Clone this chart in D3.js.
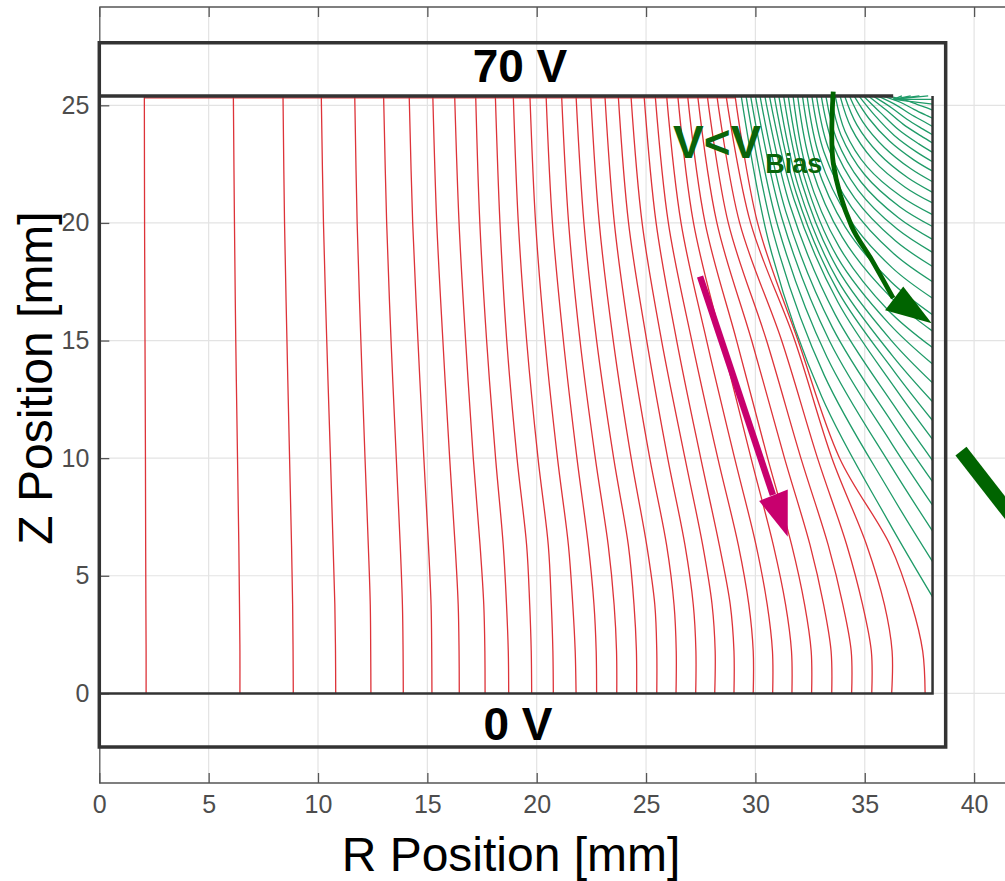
<!DOCTYPE html>
<html>
<head>
<meta charset="utf-8">
<script src="https://cdn.jsdelivr.net/npm/d3@7"></script>
<style>
  html, body { margin: 0; padding: 0; background: #fff; }
  svg { display: block; font-family: "Liberation Sans", Arial, Helvetica, sans-serif; }
</style>
</head>
<body>
<div id="chart"></div>
<script>
'use strict';

const xTicks = [0, 5, 10, 15, 20, 25, 30, 35, 40];
const yTicks = [0, 5, 10, 15, 20, 25];

// detector: radius x height in mm, plus the electrode box drawn around it
const detRadius = 38.1,
  detHeight = 25.4;
const boxR = [0, 38.7],
  boxZ = [-2.28, 27.66];

// red drift lines: radius (mm) at each of these heights
const redLevels = [25.4, 20, 15, 10, 6.3, 3.77, 1.8, 0];
const redLines = [
  [2.06, 2.07, 2.09, 2.11, 2.12, 2.13, 2.14, 2.14],
  [6.13, 6.18, 6.24, 6.32, 6.38, 6.41, 6.43, 6.43],
  [8.40, 8.47, 8.58, 8.70, 8.79, 8.84, 8.86, 8.87],
  [10.15, 10.25, 10.40, 10.57, 10.69, 10.77, 10.80, 10.81],
  [11.68, 11.79, 11.96, 12.15, 12.30, 12.39, 12.41, 12.42],
  [13.00, 13.14, 13.34, 13.58, 13.76, 13.86, 13.89, 13.90],
  [14.17, 14.33, 14.57, 14.84, 15.05, 15.17, 15.20, 15.21],
  [15.25, 15.43, 15.71, 16.02, 16.27, 16.41, 16.45, 16.46],
  [16.25, 16.45, 16.75, 17.10, 17.41, 17.58, 17.63, 17.64],
  [17.21, 17.40, 17.71, 18.12, 18.47, 18.62, 18.70, 18.72],
  [18.11, 18.32, 18.63, 19.10, 19.54, 19.68, 19.75, 19.77],
  [18.93, 19.16, 19.54, 20.06, 20.53, 20.67, 20.74, 20.76],
  [19.69, 19.95, 20.38, 20.95, 21.45, 21.65, 21.76, 21.80],
  [20.43, 20.72, 21.22, 21.84, 22.36, 22.62, 22.72, 22.74],
  [21.14, 21.46, 21.98, 22.68, 23.27, 23.54, 23.65, 23.66],
  [21.80, 22.16, 22.74, 23.52, 24.19, 24.45, 24.56, 24.57],
  [22.47, 22.86, 23.50, 24.32, 25.03, 25.40, 25.49, 25.49],
  [23.12, 23.55, 24.27, 25.17, 25.94, 26.28, 26.38, 26.37],
  [23.73, 24.20, 25.03, 25.99, 26.78, 27.16, 27.28, 27.27],
  [24.31, 24.82, 25.71, 26.78, 27.59, 28.02, 28.16, 28.14],
  [24.91, 25.46, 26.40, 27.50, 28.35, 28.85, 29.02, 29.02],
  [25.42, 26.02, 27.09, 28.28, 29.22, 29.70, 29.90, 29.90],
  [25.94, 26.60, 27.77, 29.05, 30.03, 30.54, 30.78, 30.79],
  [26.45, 27.17, 28.46, 29.80, 30.82, 31.38, 31.65, 31.67],
  [26.90, 27.70, 29.14, 30.56, 31.66, 32.25, 32.55, 32.57],
  [27.36, 28.24, 29.83, 31.33, 32.50, 33.12, 33.46, 33.49],
  [27.80, 28.76, 30.51, 32.08, 33.33, 34.00, 34.38, 34.40],
  [28.24, 29.28, 31.20, 32.84, 34.18, 34.90, 35.30, 35.32],
  [28.66, 29.78, 31.80, 33.50, 35.09, 35.90, 36.25, 36.23],
  [29.07, 30.10, 31.95, 33.85, 36.16, 37.15, 37.65, 37.76]
];

// green lines, [r, z] points from the top face down to the side face
const greenLines = [
  [[29.35, 25.4], [30.66, 19.01], [33.03, 12.62], [36.09, 7.30], [38.1, 4.1]],
  [[29.57, 25.4], [30.85, 19.46], [33.15, 13.52], [36.14, 8.57], [38.1, 5.6]],
  [[29.78, 25.4], [31.03, 19.85], [33.27, 14.30], [36.19, 9.68], [38.1, 6.9]],
  [[30.00, 25.4], [31.22, 20.18], [33.40, 14.96], [36.24, 10.61], [38.1, 8.0]],
  [[30.21, 25.4], [31.39, 20.48], [33.52, 15.56], [36.29, 11.46], [38.1, 9.0]],
  [[30.43, 25.4], [31.58, 20.75], [33.65, 16.10], [36.34, 12.23], [38.1, 9.9]],
  [[30.64, 25.4], [31.76, 21.02], [33.77, 16.64], [36.38, 12.99], [38.1, 10.8]],
  [[30.86, 25.4], [31.87, 21.26], [33.76, 17.12], [36.36, 13.67], [38.1, 11.6]],
  [[31.07, 25.4], [31.98, 21.50], [33.74, 17.60], [36.27, 14.35], [38.1, 12.4]],
  [[31.29, 25.4], [32.11, 21.74], [33.74, 18.08], [36.19, 15.03], [38.1, 13.2]],
  [[31.50, 25.4], [32.23, 21.98], [33.74, 18.56], [36.12, 15.71], [38.1, 14.0]],
  [[31.72, 25.4], [32.36, 22.19], [33.83, 18.98], [36.06, 16.30], [38.1, 14.7]],
  [[31.93, 25.4], [32.55, 22.40], [33.97, 19.40], [36.13, 16.90], [38.1, 15.4]],
  [[32.15, 25.4], [32.75, 22.61], [34.11, 19.82], [36.20, 17.50], [38.1, 16.1]],
  [[32.36, 25.4], [32.93, 22.82], [34.25, 20.24], [36.26, 18.09], [38.1, 16.8]],
  [[32.58, 25.4], [33.13, 23.03], [34.40, 20.66], [36.33, 18.69], [38.1, 17.5]],
  [[32.79, 25.4], [33.32, 23.23], [34.54, 21.05], [36.40, 19.24], [38.1, 18.15]],
  [[33.01, 25.4], [33.52, 23.41], [34.69, 21.41], [36.47, 19.75], [38.1, 18.75]],
  [[33.22, 25.4], [33.71, 23.57], [34.83, 21.74], [36.54, 20.22], [38.1, 19.3]],
  [[33.44, 25.4], [33.91, 23.74], [34.98, 22.07], [36.61, 20.68], [38.1, 19.85]],
  [[33.65, 25.4], [34.10, 23.89], [35.12, 22.37], [36.68, 21.11], [38.1, 20.35]],
  [[33.87, 25.4], [34.38, 24.04], [35.39, 22.67], [36.83, 21.53], [38.1, 20.85]],
  [[34.08, 25.4], [34.64, 24.17], [35.65, 22.94], [36.97, 21.92], [38.1, 21.3]],
  [[34.30, 25.4], [34.91, 24.30], [35.90, 23.21], [37.11, 22.30], [38.1, 21.75]],
  [[34.51, 25.4], [35.19, 24.44], [36.13, 23.48], [37.24, 22.68], [38.1, 22.2]],
  [[34.73, 25.4], [35.47, 24.56], [36.35, 23.72], [37.36, 23.02], [38.1, 22.6]],
  [[34.94, 25.4], [35.73, 24.68], [36.55, 23.96], [37.47, 23.36], [38.1, 23.0]],
  [[35.16, 25.4], [35.98, 24.80], [36.75, 24.20], [37.57, 23.70], [38.1, 23.4]],
  [[35.37, 25.4], [36.22, 24.90], [36.93, 24.41], [37.64, 24.00], [38.1, 23.75]],
  [[35.59, 25.4], [36.44, 25.01], [37.10, 24.62], [37.72, 24.30], [38.1, 24.1]],
  [[35.80, 25.4], [36.65, 25.12], [37.25, 24.83], [37.78, 24.59], [38.1, 24.45]],
  [[36.02, 25.4], [36.85, 25.22], [37.39, 25.04], [37.85, 24.89], [38.1, 24.8]]
];

// short lines fanning out of the point contact
const contact = [36.3, 25.25];
const fanEnds = [
  [38.1, 25.05], [38.1, 25.25], [37.9, 25.4], [37.5, 25.4], [37.1, 25.4], [36.7, 25.4]
];

// annotation arrows
const greenArrow = [[33.56, 25.58], [33.56, 22.54], [34.41, 19.84], [35.32, 18.43], [36.3, 16.8]];
const greenHead = [[35.93, 16.29], [36.76, 17.30], [38.06, 15.73]];
const pinkArrow = [[27.47, 17.72], [30.80, 8.43]];
const pinkHead = [[30.17, 8.18], [31.48, 8.67], [31.48, 6.66]];
const sideArrow = [[39.4, 10.3], [44.0, 4.8]];

const width = 1005,
  height = 881;

const x = d3.scaleLinear().domain([0, 42]).range([99.3, 99.3 + 42 * 21.87]);
const y = d3.scaleLinear().domain([-3.81, 29.18]).range([783, 7]);

const svg = d3.select('#chart')
  .append('svg')
  .attr('width', width)
  .attr('height', height);

// grid
const grid = svg.append('g').attr('class', 'grid');
grid.selectAll('line.gx')
  .data(xTicks.slice(1).concat([45]))
  .enter()
  .append('line')
  .attr('x1', d => x(d)).attr('x2', d => x(d))
  .attr('y1', y.range()[1]).attr('y2', y.range()[0])
  .attr('stroke', '#e3e3e3')
  .attr('stroke-width', 1.2);
grid.selectAll('line.gy')
  .data(yTicks)
  .enter()
  .append('line')
  .attr('x1', x(0)).attr('x2', width)
  .attr('y1', d => y(d)).attr('y2', d => y(d))
  .attr('stroke', '#e3e3e3')
  .attr('stroke-width', 1.2);

// axes, ticks pointing inward
const axisColor = '#555';
const xAxis = d3.axisBottom(x).tickValues(xTicks).tickSizeInner(-10).tickSizeOuter(0).tickPadding(12);
const xAxisTop = d3.axisTop(x).tickValues(xTicks).tickSizeInner(-10).tickSizeOuter(0).tickFormat('');
const yAxis = d3.axisLeft(y).tickValues(yTicks).tickSizeInner(-10).tickSizeOuter(0).tickPadding(10);

const gx = svg.append('g')
  .attr('transform', `translate(0, ${y.range()[0]})`)
  .call(xAxis);
const gxt = svg.append('g')
  .attr('transform', `translate(0, ${y.range()[1]})`)
  .call(xAxisTop);
const gy = svg.append('g')
  .attr('transform', `translate(${x(0)}, 0)`)
  .call(yAxis);

[gx, gxt, gy].forEach(g => {
  g.select('.domain').attr('stroke', axisColor).attr('stroke-width', 1.3);
  g.selectAll('.tick line').attr('stroke', axisColor).attr('stroke-width', 1.3);
  g.selectAll('.tick text')
    .attr('fill', '#4d4d4d')
    .style('font-size', '25px')
    .style('font-family', '"Liberation Sans", Arial, sans-serif');
});
gx.select('.domain').attr('d', `M${x(0)},0H${width}`);
gxt.select('.domain').attr('d', `M${x(0)},0H${width}`);

const line = d3.line()
  .x(d => x(d[0]))
  .y(d => y(d[1]))
  .curve(d3.curveCatmullRom.alpha(0.5));

// red drift lines, plus the red trace under the top face
const redColor = '#dd3339';
svg.append('g')
  .selectAll('path')
  .data(redLines)
  .enter()
  .append('path')
  .attr('d', r => line(r.map((v, i) => [v, redLevels[i]])))
  .attr('fill', 'none')
  .attr('stroke', redColor)
  .attr('stroke-width', 1.3);
svg.append('path')
  .attr('d', `M${x(redLines[0][0])},${y(detHeight) + 2}H${x(redLines[redLines.length - 1][0])}`)
  .attr('stroke', redColor).attr('stroke-width', 1.2);

// green lines
svg.append('g')
  .selectAll('path')
  .data(greenLines.concat(fanEnds.map(e => [contact, e])))
  .enter()
  .append('path')
  .attr('d', line)
  .attr('fill', 'none')
  .attr('stroke', '#1f9b68')
  .attr('stroke-width', 1.3);

// detector outline
const frame = '#333';
svg.append('path')
  .attr('d', `M${x(0)},${y(detHeight)}H${x(contact[0])}`)
  .attr('stroke', frame).attr('stroke-width', 3.5).attr('fill', 'none');
svg.append('path')
  .attr('d', `M${x(0)},${y(0)}H${x(detRadius)}V${y(detHeight)}`)
  .attr('stroke', frame).attr('stroke-width', 2.5).attr('fill', 'none');

// electrode box
svg.append('rect')
  .attr('x', x(boxR[0]))
  .attr('y', y(boxZ[1]))
  .attr('width', x(boxR[1]) - x(boxR[0]))
  .attr('height', y(boxZ[0]) - y(boxZ[1]))
  .attr('fill', 'none')
  .attr('stroke', frame)
  .attr('stroke-width', 3.5);

// arrows
svg.append('path')
  .attr('d', line(greenArrow))
  .attr('fill', 'none')
  .attr('stroke', '#006400')
  .attr('stroke-width', 4.8);
svg.append('polygon')
  .attr('points', greenHead.map(p => [x(p[0]), y(p[1])].join(',')).join(' '))
  .attr('fill', '#006400');

svg.append('path')
  .attr('d', d3.line().x(d => x(d[0])).y(d => y(d[1]))(pinkArrow))
  .attr('stroke', '#c8006e')
  .attr('stroke-width', 6.5);
svg.append('polygon')
  .attr('points', pinkHead.map(p => [x(p[0]), y(p[1])].join(',')).join(' '))
  .attr('fill', '#c8006e');

svg.append('path')
  .attr('d', d3.line().x(d => x(d[0])).y(d => y(d[1]))(sideArrow))
  .attr('stroke', '#006400')
  .attr('stroke-width', 14);

// labels
svg.append('text')
  .attr('x', 520).attr('y', 82)
  .attr('text-anchor', 'middle')
  .style('font-size', '46px').style('font-weight', 'bold')
  .text('70 V');
svg.append('text')
  .attr('x', 518).attr('y', 740)
  .attr('text-anchor', 'middle')
  .style('font-size', '46px').style('font-weight', 'bold')
  .text('0 V');

const vb = svg.append('text')
  .attr('x', 673).attr('y', 158)
  .attr('fill', '#0a650a')
  .style('font-weight', 'bold');
vb.append('tspan').style('font-size', '46px').text('V<V');
vb.append('tspan').attr('dx', 4).attr('dy', 15).style('font-size', '27px').text('Bias');

svg.append('text')
  .attr('x', 511).attr('y', 871)
  .attr('text-anchor', 'middle')
  .style('font-size', '48px')
  .text('R Position [mm]');
svg.append('text')
  .attr('transform', 'translate(52, 378) rotate(-90)')
  .attr('text-anchor', 'middle')
  .style('font-size', '48px')
  .text('Z Position [mm]');
</script>
</body>
</html>
